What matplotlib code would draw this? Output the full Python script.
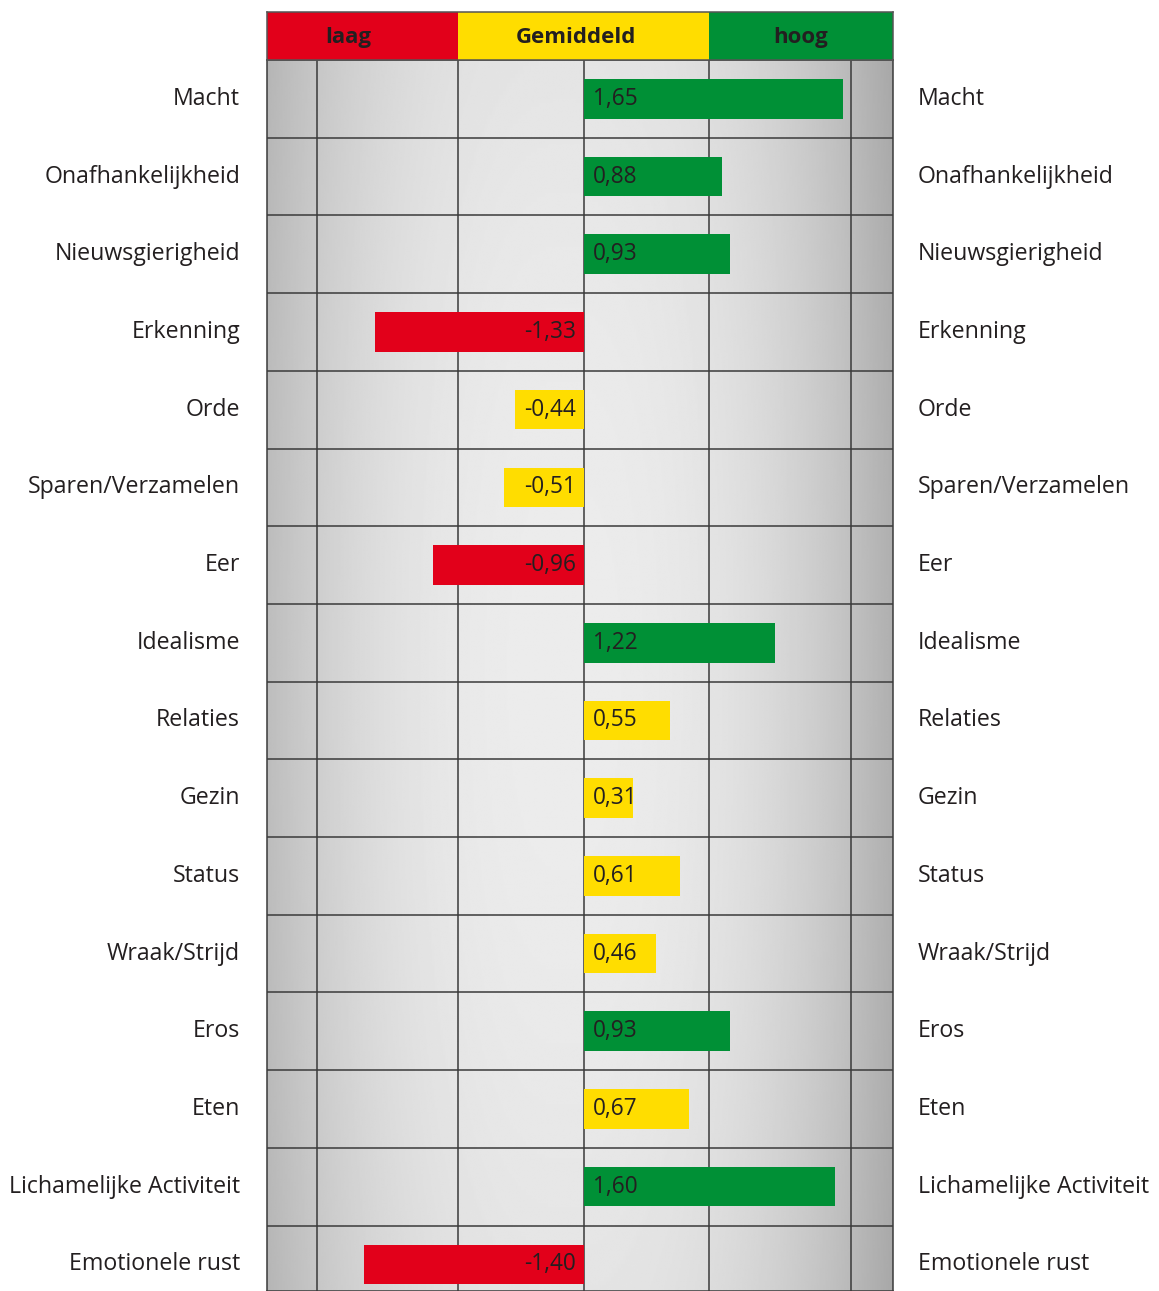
import numpy as np
import matplotlib.pyplot as plt

plt.rcParams['font.family'] = ['Open Sans', 'DejaVu Sans']

categories = ["Macht", "Onafhankelijkheid", "Nieuwsgierigheid", "Erkenning", "Orde",
              "Sparen/Verzamelen", "Eer", "Idealisme", "Relaties", "Gezin", "Status",
              "Wraak/Strijd", "Eros", "Eten", "Lichamelijke Activiteit", "Emotionele rust"]
values = [1.65, 0.88, 0.93, -1.33, -0.44, -0.51, -0.96, 1.22, 0.55, 0.31, 0.61,
          0.46, 0.93, 0.67, 1.60, -1.40]
bands = ["laag", "Gemiddeld", "hoog"]
band_edges = [-0.8, 0.8]
grid_x = [-1.7, -0.8, 0.0, 0.8, 1.7]

RED, YELLOW, GREEN = "#e2001a", "#ffdd00", "#009036"
LINE = "#3a3a3a"
TXT = "#231f20"

W, H = 1159, 1291
fig = plt.figure(figsize=(W / 100, H / 100), dpi=100)

x0, x1 = 267 / W, 893 / W
xmin, xmax = -2.02, 1.97

# main body
ax = fig.add_axes([x0, 0, x1 - x0, (H - 60) / H])
row_h = 77.7
ax.set_xlim(xmin, xmax)
ax.set_ylim(-0.5 + (H - 60) / row_h, -0.5)

# grey background gradient, darker to the sides
gx = np.linspace(-1, 1, 400)
gy = np.linspace(-1, 1, 300)
GX, GY = np.meshgrid(gx, gy)
shade = 0.925 - 0.21 * (np.abs(GX + 0.05) ** 2.5) - 0.03 * GY ** 2
ax.imshow(shade, cmap="gray", vmin=0, vmax=1, aspect="auto",
          extent=[xmin, xmax, ax.get_ylim()[0], -0.5], zorder=0, interpolation="bilinear")

for gxv in grid_x:
    ax.axvline(gxv, color=LINE, lw=1.1, zorder=1)
for i in range(len(categories) - 1):
    ax.axhline(i + 0.5, color=LINE, lw=1.1, zorder=1)

def bar_color(v):
    if v < band_edges[0]:
        return RED
    if v > band_edges[1]:
        return GREEN
    return YELLOW

y = np.arange(len(categories))
ax.barh(y, values, height=0.51, color=[bar_color(v) for v in values], zorder=2)

for yi, v in zip(y, values):
    lab = f"{v:.2f}".replace(".", ",")
    if v >= 0:
        ax.text(0.055, yi, lab, ha="left", va="center", fontsize=16.3, color=TXT, zorder=3)
    else:
        ax.text(-0.05, yi, lab, ha="right", va="center", fontsize=16.3, color=TXT, zorder=3)

ax.set_xticks([])
ax.set_yticks([])
for s in ax.spines.values():
    s.set_color(LINE)
    s.set_linewidth(1.1)

# category names on both sides
for yi, c in zip(y, categories):
    ax.annotate(c, xy=(0, yi), xycoords=("axes fraction", "data"), xytext=(-27, 0),
                textcoords="offset pixels", ha="right", va="center", fontsize=16.7, color=TXT)
    ax.annotate(c, xy=(1, yi), xycoords=("axes fraction", "data"), xytext=(25, 0),
                textcoords="offset pixels", ha="left", va="center", fontsize=16.7, color=TXT)

# header band
hax = fig.add_axes([x0, (H - 60) / H, x1 - x0, 48 / H])
hax.set_xlim(xmin, xmax)
hax.set_ylim(0, 1)
spans = [(xmin, band_edges[0]), (band_edges[0], band_edges[1]), (band_edges[1], xmax)]
for (a, b), col in zip(spans, [RED, YELLOW, GREEN]):
    hax.axvspan(a, b, color=col, lw=0)
for name, xc in zip(bands, [-1.5, -0.05, 1.38]):
    hax.text(xc, 0.46, name, ha="center", va="center", fontsize=16, fontweight="bold", color=TXT)
hax.set_xticks([])
hax.set_yticks([])
for s in hax.spines.values():
    s.set_color("#555555")
    s.set_linewidth(1.1)

fig.savefig("out.png", dpi=100)
